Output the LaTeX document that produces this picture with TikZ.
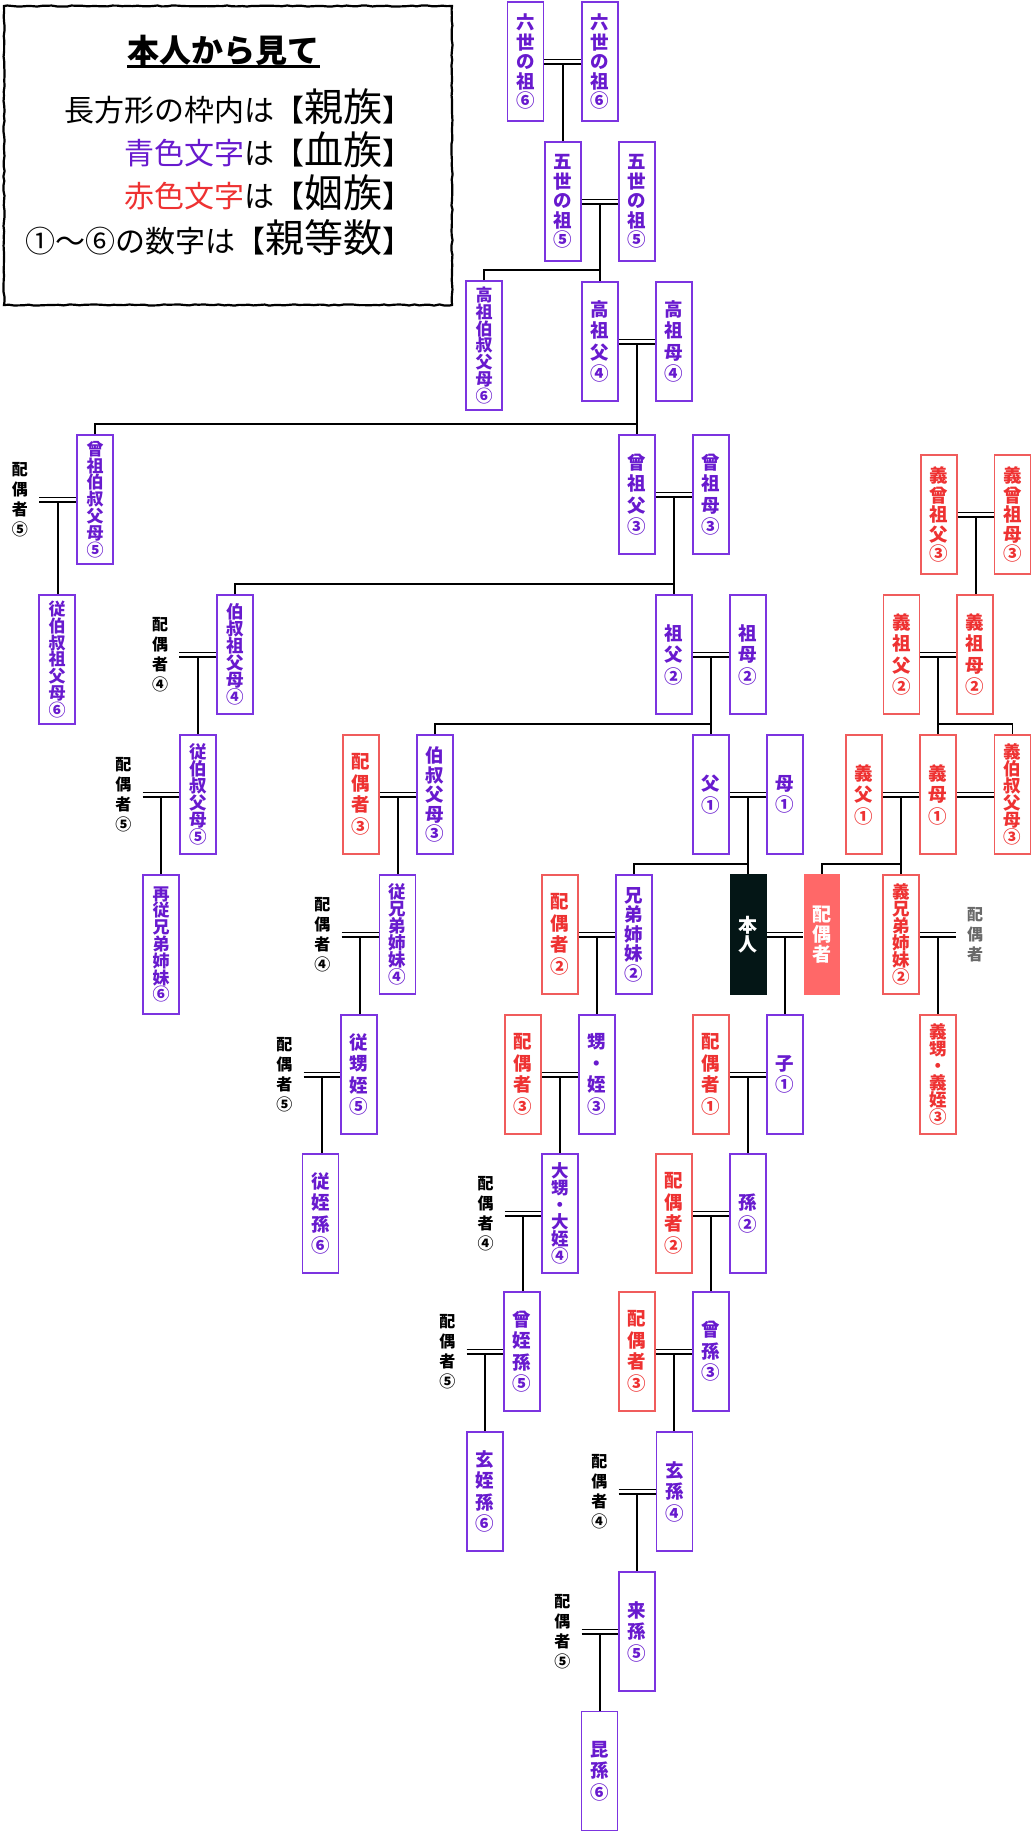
\documentclass[tikz,border=0pt]{standalone}
\usepackage{fontspec}
\newfontfamily\jp{Noto Sans CJK JP}
\usetikzlibrary{calc,decorations.pathmorphing}
\definecolor{ptext}{RGB}{104,26,206}
\definecolor{pline}{RGB}{124,52,224}
\definecolor{rtext}{RGB}{238,50,50}
\definecolor{rline}{RGB}{240,92,92}
\definecolor{salmon}{RGB}{255,104,104}
\definecolor{darkbox}{RGB}{4,22,22}
\definecolor{graytxt}{RGB}{105,105,105}
\newcommand\fA{\jp\bfseries\fontsize{18.5}{21.5}\selectfont}
\newcommand\fB{\jp\bfseries\fontsize{18.5}{19.5}\selectfont}
\newcommand\fC{\jp\bfseries\fontsize{17.5}{17}\selectfont}
\newcommand\fD{\jp\bfseries\fontsize{17}{16.8}\selectfont}
\newcommand\fL{\jp\bfseries\fontsize{16}{20}\selectfont}
\newcommand\couple[3]{%
  \draw[conn] ([yshift=2.1pt]#1.east) -- ([yshift=2.1pt]#2.west);
  \draw[conn] ([yshift=-2.1pt]#1.east) -- ([yshift=-2.1pt]#2.west);
  \coordinate (#3) at ($([yshift=-2.1pt]#1.east)!0.5!([yshift=-2.1pt]#2.west)$);}
\newcommand\descend[2]{\draw[conn] (#1) -- (#1 |- #2.north);}
\newcommand\branch[2]{\draw[conn] (#2.north) -- ++(0,10pt) -| (#1);}
\tikzset{
  conn/.style={line width=1.8pt, draw=black},
  pbox/.style={draw=pline, line width=1.9pt, text=ptext, minimum width=36pt, minimum height=119pt, inner sep=0pt, align=center, font=\fA},
  rbox/.style={pbox, draw=rline, text=rtext},
  sp/.style={minimum width=38pt, inner sep=0pt, align=center, font=\fL, text=black},
  filled/.style={minimum width=36.7pt, minimum height=121pt, inner sep=0pt, align=center, text=white, font=\jp\bfseries\fontsize{19}{19}\selectfont},
  small/.style={font=\jp\fontsize{30}{30}\selectfont},
}
\newcommand\bigtxt[1]{{\fontsize{39}{39}\selectfont #1}}
\begin{document}
\begin{tikzpicture}[x=1pt,y=-1pt]
\useasboundingbox (0,0) rectangle (1032,1832);
% ---------- legend ----------
\pgfmathsetseed{7}
\draw[line width=2.2pt, decorate, decoration={random steps,segment length=5pt,amplitude=0.6pt}] (4,6) rectangle (452,305);
\node[anchor=base, inner sep=0pt, font=\jp\bfseries\fontsize{32}{32}\selectfont] (title) at (223.3,62.5) {本人から見て};
\draw[line width=2.4pt] ([yshift=-4pt]title.base west) -- ([yshift=-4pt]title.base east);
\node[anchor=base east, inner sep=0pt, small] (l1) at (413,121) {長方形の枠内は【\bigtxt{親族}】};
\node[anchor=base east, inner sep=0pt, small] (l2) at (413,164) {\textcolor{ptext}{青色文字}は【\bigtxt{血族}】};
\node[anchor=base east, inner sep=0pt, small] (l3) at (413,207.5) {\textcolor{rtext}{赤色文字}は【\bigtxt{姻族}】};
\node[anchor=base east, inner sep=0pt, small] (l4) at (413,252) {①～⑥の数字は【\bigtxt{親等数}】};
% ---------- row A ----------
\node[pbox,font=\fB] (r6a) at (525.5,61.5) {六\\世\\の\\祖\\⑥};
\node[pbox,font=\fB] (r6b) at (600,61.5) {六\\世\\の\\祖\\⑥};
% ---------- row B ----------
\node[pbox,font=\fB] (r5a) at (563,201.5) {五\\世\\の\\祖\\⑤};
\node[pbox,font=\fB] (r5b) at (637,201.5) {五\\世\\の\\祖\\⑤};
% ---------- row C ----------
\node[pbox,font=\fD,minimum height=129pt] (kosoo) at (484,345.5) {高\\祖\\伯\\叔\\父\\母\\⑥};
\node[pbox] (kosof) at (600,341.5) {高\\祖\\父\\④};
\node[pbox] (kosom) at (674,341.5) {高\\祖\\母\\④};
% ---------- row D ----------
\node[sp] (spA) at (20,499.5) {配\\偶\\者\\⑤};
\node[pbox,font=\fD,minimum height=129pt] (sosoo) at (95,499.5) {曾\\祖\\伯\\叔\\父\\母\\⑤};
\node[pbox] (sosof) at (637,494.5) {曾\\祖\\父\\③};
\node[pbox] (sosom) at (711,494.5) {曾\\祖\\母\\③};
\node[rbox,font=\fB] (gsf) at (939,514.5) {義\\曾\\祖\\父\\③};
\node[rbox,font=\fB] (gsm) at (1012.5,514.5) {義\\曾\\祖\\母\\③};
% ---------- row E ----------
\node[pbox,font=\fD,minimum height=129pt] (jhs) at (57,659.5) {従\\伯\\叔\\祖\\父\\母\\⑥};
\node[sp] (spB) at (160,654.5) {配\\偶\\者\\④};
\node[pbox,font=\fC] (hks) at (235,654.5) {伯\\叔\\祖\\父\\母\\④};
\node[pbox] (sofu) at (674,654.5) {祖\\父\\②};
\node[pbox] (sobo) at (748,654.5) {祖\\母\\②};
\node[rbox] (gsofu) at (901.5,654.5) {義\\祖\\父\\②};
\node[rbox] (gsobo) at (975,654.5) {義\\祖\\母\\②};
% ---------- row F ----------
\node[sp] (spC) at (123.3,794.5) {配\\偶\\者\\⑤};
\node[pbox,font=\fC] (jhk) at (198,794.5) {従\\伯\\叔\\父\\母\\⑤};
\node[rbox] (hgC) at (361,794.5) {配\\偶\\者\\③};
\node[pbox,font=\fB] (hk) at (435,794.5) {伯\\叔\\父\\母\\③};
\node[pbox] (chichi) at (711,794.5) {父\\①};
\node[pbox] (haha) at (785,794.5) {母\\①};
\node[rbox] (gifu) at (864,794.5) {義\\父\\①};
\node[rbox] (gibo) at (938,794.5) {義\\母\\①};
\node[rbox,font=\fC] (gihk) at (1012.5,794.5) {義\\伯\\叔\\父\\母\\③};
% ---------- row G ----------
\node[pbox,font=\fD,minimum height=139pt] (saiju) at (161,944.5) {再\\従\\兄\\弟\\姉\\妹\\⑥};
\node[sp] (spD) at (322.3,934.5) {配\\偶\\者\\④};
\node[pbox,font=\fC] (juke) at (397.5,934.5) {従\\兄\\弟\\姉\\妹\\④};
\node[rbox] (hgB) at (560,934.5) {配\\偶\\者\\②};
\node[pbox,font=\fB] (kyodai) at (634,934.5) {兄\\弟\\姉\\妹\\②};
\node[filled, fill=darkbox] (honnin) at (748.3,934.5) {本\\人};
\node[filled, fill=salmon, font=\jp\bfseries\fontsize{19}{20}\selectfont] (haigusha) at (822,934.5) {配\\偶\\者};
\node[rbox,font=\fC] (gky) at (901,934.5) {義\\兄\\弟\\姉\\妹\\②};
\node[sp, text=graytxt] (spG) at (975,934.5) {配\\偶\\者};
% ---------- row H ----------
\node[sp] (spE) at (284.3,1074.5) {配\\偶\\者\\⑤};
\node[pbox] (juoi) at (359,1074.5) {従\\甥\\姪\\⑤};
\node[rbox] (hgC2) at (523,1074.5) {配\\偶\\者\\③};
\node[pbox] (oimei) at (597,1074.5) {甥\\・\\姪\\③};
\node[rbox] (hgA) at (711,1074.5) {配\\偶\\者\\①};
\node[pbox] (ko) at (785,1074.5) {子\\①};
\node[rbox,font=\fC] (gioi) at (938,1074.5) {義\\甥\\・\\義\\姪\\③};
% ---------- row I ----------
\node[pbox] (jms) at (320.5,1213.5) {従\\姪\\孫\\⑥};
\node[sp] (spF) at (485.7,1213.5) {配\\偶\\者\\④};
\node[pbox,font=\fC] (ooi) at (560,1213.5) {大\\甥\\・\\大\\姪\\④};
\node[rbox] (hgB2) at (674,1213.5) {配\\偶\\者\\②};
\node[pbox] (mago) at (748,1213.5) {孫\\②};
% ---------- row J ----------
\node[sp] (spH) at (447.3,1351.5) {配\\偶\\者\\⑤};
\node[pbox] (sms) at (522,1351.5) {曾\\姪\\孫\\⑤};
\node[rbox] (hgC3) at (637,1351.5) {配\\偶\\者\\③};
\node[pbox] (himago) at (711,1351.5) {曾\\孫\\③};
% ---------- row K ----------
\node[pbox] (gms) at (485,1491.5) {玄\\姪\\孫\\⑥};
\node[sp] (spI) at (599.3,1491.5) {配\\偶\\者\\④};
\node[pbox] (genson) at (674.5,1491.5) {玄\\孫\\④};
% ---------- row L ----------
\node[sp] (spJ) at (562.3,1631.5) {配\\偶\\者\\⑤};
\node[pbox] (raison) at (636.7,1631.5) {来\\孫\\⑤};
% ---------- row M ----------
\node[pbox] (konson) at (599.5,1771) {昆\\孫\\⑥};
% ---------- connectors ----------
\couple{r6a}{r6b}{m6} \descend{m6}{r5a}
\couple{r5a}{r5b}{m5} \descend{m5}{kosof} \branch{m5}{kosoo}
\couple{kosof}{kosom}{m4} \descend{m4}{sosof} \branch{m4}{sosoo}
\couple{spA}{sosoo}{ma} \descend{ma}{jhs}
\couple{sosof}{sosom}{m3} \descend{m3}{sofu} \branch{m3}{hks}
\couple{gsf}{gsm}{mg3} \descend{mg3}{gsobo}
\couple{spB}{hks}{mb} \descend{mb}{jhk}
\couple{sofu}{sobo}{m2} \descend{m2}{chichi} \branch{m2}{hk}
\couple{gsofu}{gsobo}{mg2} \descend{mg2}{gibo} \branch{mg2}{gihk}
\couple{spC}{jhk}{mc} \descend{mc}{saiju}
\couple{hgC}{hk}{mhk} \descend{mhk}{juke}
\couple{chichi}{haha}{m1} \descend{m1}{honnin} \branch{m1}{kyodai}
\couple{gifu}{gibo}{mg1} \descend{mg1}{gky} \branch{mg1}{haigusha}
\couple{gibo}{gihk}{mgx}
\couple{spD}{juke}{md} \descend{md}{juoi}
\couple{hgB}{kyodai}{mky} \descend{mky}{oimei}
\couple{honnin}{haigusha}{mhn} \descend{mhn}{ko}
\couple{gky}{spG}{mgk} \descend{mgk}{gioi}
\couple{spE}{juoi}{me} \descend{me}{jms}
\couple{hgC2}{oimei}{mom} \descend{mom}{ooi}
\couple{hgA}{ko}{mko} \descend{mko}{mago}
\couple{spF}{ooi}{mf} \descend{mf}{sms}
\couple{hgB2}{mago}{mmg} \descend{mmg}{himago}
\couple{spH}{sms}{mh} \descend{mh}{gms}
\couple{hgC3}{himago}{mhm} \descend{mhm}{genson}
\couple{spI}{genson}{mi} \descend{mi}{raison}
\couple{spJ}{raison}{mj} \descend{mj}{konson}
\end{tikzpicture}
\end{document}
